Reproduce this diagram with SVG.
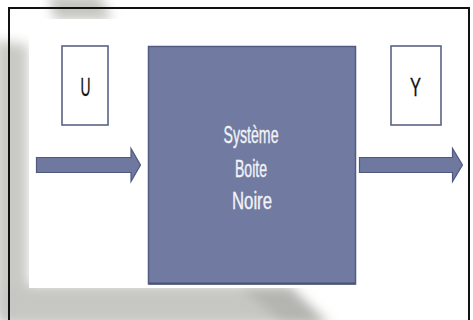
<svg xmlns="http://www.w3.org/2000/svg" width="473" height="320" viewBox="0 0 473 320">
  <defs>
    <filter id="blur" x="-30%" y="-30%" width="160%" height="160%">
      <feGaussianBlur stdDeviation="6"/>
    </filter>
    <style>
      .io { fill: #ffffff; stroke: #5b6386; stroke-width: 1.6; }
      .sys { fill: #717ba1; stroke: #525c83; stroke-width: 1.5; }
      .arrow { fill: #6f79a0; stroke: #4f5980; stroke-width: 1.2; stroke-linejoin: miter; }
      .lbl { font-family: "Liberation Sans", Arial, sans-serif; font-size: 25px; fill: #111111; stroke: #111111; stroke-width: 0.3; text-anchor: middle; }
      .sysTxt { font-family: "Liberation Sans", Arial, sans-serif; font-size: 23px; fill: #f2f3f8; stroke: #f2f3f8; stroke-width: 0.35; text-anchor: middle; }
    </style>
  </defs>

  <!-- background with grey swooshes -->
  <rect x="0" y="0" width="473" height="320" fill="#ffffff"/>
  <g id="background" filter="url(#blur)" fill="#c4c4c0">
    <path d="M48,-5 L100,-5 L112,20 L55,20 Z"/>
    <path d="M-5,40 L28,45 L28,320 L-5,320 Z" fill="#c9c9c5"/>
    <path d="M0,285 L250,285 L300,300 L320,325 L0,325 Z" fill="#c6c6c2"/>
    <path d="M240,286 L290,286 L330,325 L285,325 Z" fill="#b4b4b0"/>
  </g>
  <rect x="29" y="19" width="444" height="269" fill="#ffffff"/>
  <rect x="356" y="19" width="117" height="301" fill="#ffffff"/>

  <!-- outer frame -->
  <path d="M9,322 L9,8 L469,8 L469,322" fill="none" stroke="#111111" stroke-width="2"/>

  <!-- connectors -->
  <g id="connectors">
    <polygon class="arrow" points="36.5,157.5 131,157.5 131,148.5 140.5,165 131,181.5 131,172.5 36.5,172.5"/>
    <polygon class="arrow" points="359.5,157.5 452.5,157.5 452.5,148.5 462.5,165 452.5,181.5 452.5,172.5 359.5,172.5"/>
  </g>

  <g id="node-u">
    <rect class="io" x="62" y="46" width="46" height="79"/>
    <text class="lbl" x="85.5" y="96" textLength="10" lengthAdjust="spacingAndGlyphs">U</text>
  </g>

  <g id="node-system">
    <rect class="sys" x="148.5" y="46.5" width="207" height="237.5"/>
    <line x1="149" y1="283.5" x2="355.5" y2="283.5" stroke="#4a5479" stroke-width="2"/>
    <text class="sysTxt" x="251" y="143" textLength="55" lengthAdjust="spacingAndGlyphs">Système</text>
    <text class="sysTxt" x="251" y="177" textLength="32" lengthAdjust="spacingAndGlyphs">Boite</text>
    <text class="sysTxt" x="252" y="209" textLength="40" lengthAdjust="spacingAndGlyphs">Noire</text>
  </g>

  <g id="node-y">
    <rect class="io" x="391" y="46" width="50" height="79"/>
    <text class="lbl" x="415.5" y="96" textLength="11" lengthAdjust="spacingAndGlyphs">Y</text>
  </g>
</svg>
